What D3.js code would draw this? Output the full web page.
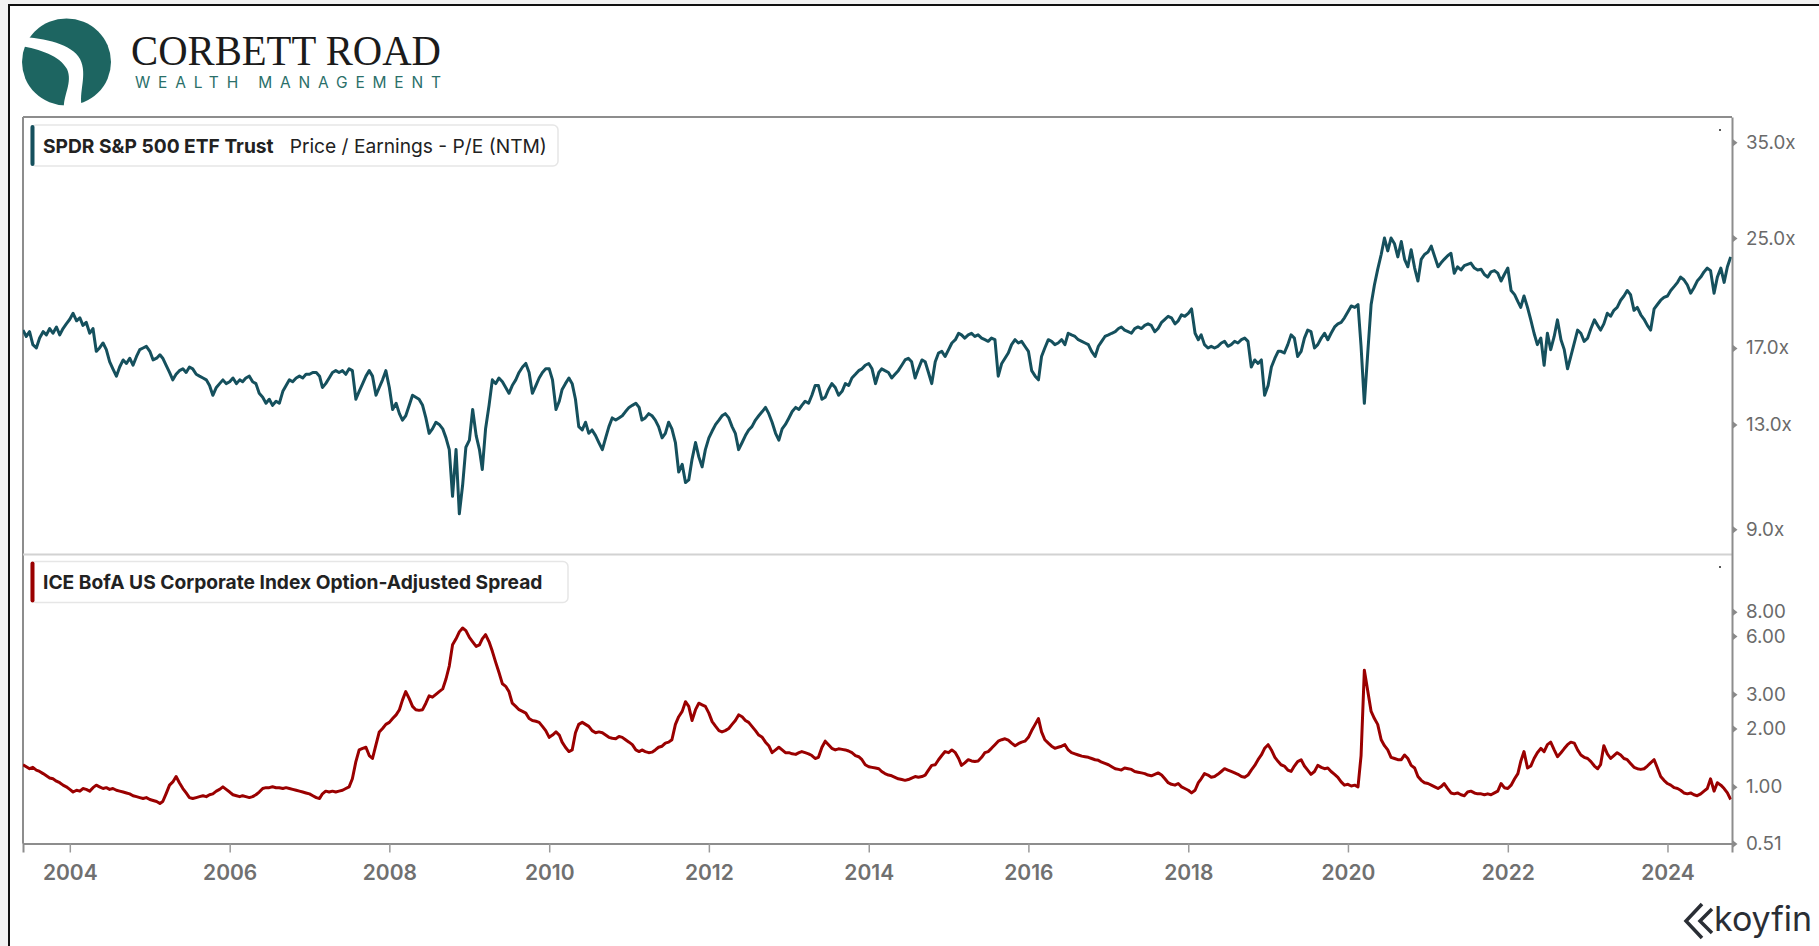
<!DOCTYPE html>
<html><head><meta charset="utf-8">
<script src="https://cdn.jsdelivr.net/npm/d3@7"></script>
<style>html,body{margin:0;padding:0;background:#f2f2f2;} svg{display:block;}</style>
</head><body>
<svg id="c" width="1819" height="946"></svg>
<script>
// Observations: 1st and 16th of each month, starting June 2003
const startYear = 2003, startMonth = 5;
const peName = "SPDR S&P 500 ETF Trust";
const peMetric = "Price / Earnings - P/E (NTM)";
const oasName = "ICE BofA US Corporate Index Option-Adjusted Spread";
const peValues = [
/*2003*/18.1,17.7,18.0,17.2,17.0,17.6,18.0,17.8,18.2,17.9,18.3,17.8,18.2,18.5,
/*2004*/18.8,19.2,18.7,18.9,18.4,18.6,17.9,18.2,16.8,17.0,17.3,16.9,16.2,15.8,15.4,15.9,16.3,16.1,16.4,16.0,16.5,16.9,17.0,17.1,
/*2005*/16.8,16.3,16.4,16.6,16.4,16.0,15.6,15.2,15.5,15.7,15.8,15.6,15.9,15.8,15.5,15.4,15.3,15.2,14.9,14.4,14.8,15.0,15.2,15.0,
/*2006*/15.1,15.3,15.0,15.2,15.1,15.3,15.4,15.1,15.0,14.5,14.3,14.0,14.2,13.9,14.1,14.0,14.6,14.9,15.2,15.1,15.3,15.4,15.3,15.5,
/*2007*/15.5,15.6,15.6,15.4,14.8,15.0,15.3,15.6,15.7,15.6,15.7,15.5,15.8,15.7,14.2,14.6,15.0,15.4,15.7,15.4,14.4,14.8,15.2,15.7,
/*2008*/14.8,13.7,14.0,13.5,13.2,13.4,13.9,14.4,14.3,14.2,13.9,13.3,12.6,12.8,13.1,13.0,12.8,12.4,11.9,10.1,11.9,9.5,10.5,12.0,
/*2009*/12.3,13.7,12.5,11.9,11.1,12.8,13.9,15.2,15.0,15.3,15.1,14.8,14.5,14.9,15.2,15.6,15.9,16.1,15.6,14.5,14.9,15.3,15.6,15.8,
/*2010*/15.8,15.2,13.7,14.1,14.7,15.0,15.3,15.0,14.2,12.9,12.75,13.1,12.6,12.75,12.5,12.2,11.9,12.4,12.9,13.3,13.2,13.3,13.4,13.6,
/*2011*/13.8,13.9,14.0,13.8,13.2,13.3,13.5,13.4,13.2,12.9,12.4,12.6,13.1,12.8,12.2,11.0,11.3,10.6,10.7,11.5,12.2,11.6,11.2,11.9,
/*2012*/12.4,12.7,13.0,13.2,13.4,13.5,13.3,12.9,12.6,11.9,12.2,12.5,12.75,12.9,13.2,13.4,13.6,13.8,13.5,13.1,12.6,12.3,12.8,13.0,
/*2013*/13.3,13.6,13.8,13.7,13.9,14.1,14.0,14.4,14.9,14.9,14.2,14.3,14.7,15.0,14.8,14.4,14.6,15.0,14.9,15.3,15.5,15.7,15.8,16.0,
/*2014*/16.1,15.8,15.0,15.6,15.8,15.7,15.6,15.3,15.5,15.7,16.0,16.3,16.4,16.2,15.3,15.8,16.3,16.2,15.6,15.0,16.2,16.7,16.8,16.5,
/*2015*/16.9,17.3,17.5,17.9,17.8,17.6,17.8,17.9,17.7,17.8,17.6,17.5,17.4,17.6,17.5,15.4,16.1,16.4,16.7,17.2,17.5,17.3,17.4,17.1,
/*2016*/16.8,15.7,15.4,15.2,16.5,17.0,17.5,17.4,17.2,17.3,17.5,17.2,17.9,17.8,17.7,17.5,17.4,17.3,17.2,16.8,16.5,17.1,17.4,17.7,
/*2017*/17.8,17.9,18.0,18.2,18.3,18.1,18.0,17.9,18.2,18.3,18.2,18.4,18.5,18.4,18.0,18.2,18.6,18.8,19.0,18.9,18.5,18.7,19.1,19.0,
/*2018*/19.2,19.5,17.9,17.5,17.8,17.2,17.0,17.1,17.0,17.1,17.3,17.4,17.1,17.2,17.4,17.3,17.5,17.6,17.4,15.9,16.3,16.1,16.3,14.4,
/*2019*/14.9,15.9,16.4,16.8,16.8,16.7,17.2,17.8,17.6,16.5,16.8,17.6,18.1,18.0,17.0,17.2,17.6,17.9,17.5,17.9,18.3,18.5,18.6,18.9,
/*2020*/19.3,19.7,19.6,19.8,17.1,14.0,16.8,19.8,21.2,22.4,23.6,25.0,23.9,25.0,24.5,23.4,24.7,23.2,22.6,24.0,22.5,21.5,23.2,23.6,
/*2021*/23.8,24.3,23.4,22.6,22.9,23.2,23.5,23.7,22.1,22.6,22.35,22.7,22.8,22.9,22.5,22.35,22.4,22.0,21.8,22.2,22.3,22.1,21.5,22.0,
/*2022*/22.5,20.8,20.5,20.0,19.6,20.4,19.6,18.76,17.9,17.2,17.6,16.0,17.9,16.9,17.7,18.76,17.5,16.9,15.8,16.5,17.3,18.1,17.9,17.4,
/*2023*/17.6,18.2,18.76,18.4,18.1,18.5,19.2,19.0,19.4,19.6,20.1,20.4,20.8,20.5,19.4,19.6,19.1,18.8,18.4,18.1,19.5,19.8,20.1,20.3,
/*2024*/20.4,20.8,21.1,21.4,21.8,21.6,21.2,20.6,21.0,21.5,21.8,22.2,22.5,22.3,20.6,21.8,22.5,21.4,22.6,23.4
];
const oasValues = [
/*2003*/1.30,1.27,1.24,1.26,1.22,1.20,1.17,1.14,1.11,1.10,1.07,1.05,1.02,1.00,
/*2004*/0.97,0.94,0.96,0.95,0.98,0.97,0.95,0.99,1.02,1.00,0.98,0.99,0.97,0.98,0.96,0.95,0.94,0.93,0.92,0.90,0.89,0.88,0.87,0.88,
/*2005*/0.86,0.85,0.84,0.82,0.84,0.92,1.02,1.06,1.13,1.05,0.98,0.93,0.88,0.87,0.88,0.89,0.90,0.89,0.91,0.92,0.95,0.97,1.00,0.97,
/*2006*/0.94,0.91,0.90,0.89,0.90,0.89,0.88,0.89,0.91,0.94,0.98,0.99,0.99,1.00,0.99,0.99,0.98,0.99,0.98,0.97,0.96,0.95,0.94,0.93,
/*2007*/0.92,0.90,0.88,0.87,0.92,0.95,0.94,0.95,0.94,0.95,0.96,0.98,1.00,1.10,1.35,1.55,1.58,1.60,1.45,1.40,1.65,1.92,2.00,2.10,
/*2008*/2.15,2.25,2.35,2.50,2.80,3.10,2.85,2.60,2.50,2.48,2.50,2.70,2.95,2.90,3.00,3.10,3.20,3.60,4.20,5.40,5.80,6.30,6.60,6.40,
/*2009*/5.90,5.60,5.30,5.40,5.80,6.10,5.60,5.00,4.40,3.90,3.40,3.30,3.10,2.70,2.60,2.50,2.45,2.40,2.25,2.20,2.18,2.15,2.05,1.95,
/*2010*/1.80,1.85,1.92,1.85,1.70,1.60,1.52,1.55,1.90,2.10,2.15,2.10,2.05,1.95,1.90,1.92,1.90,1.85,1.80,1.78,1.77,1.82,1.80,1.75,
/*2011*/1.70,1.65,1.55,1.52,1.55,1.52,1.50,1.51,1.55,1.60,1.62,1.68,1.70,1.75,2.10,2.30,2.45,2.75,2.60,2.20,2.50,2.70,2.65,2.60,
/*2012*/2.40,2.17,2.05,1.95,1.92,1.95,2.00,2.10,2.20,2.35,2.30,2.20,2.15,2.05,1.95,1.85,1.80,1.70,1.63,1.50,1.55,1.60,1.55,1.50,
/*2013*/1.50,1.48,1.47,1.50,1.52,1.50,1.48,1.45,1.40,1.42,1.60,1.72,1.65,1.58,1.55,1.57,1.56,1.55,1.53,1.50,1.45,1.43,1.38,1.30,
/*2014*/1.27,1.26,1.25,1.24,1.20,1.17,1.15,1.14,1.12,1.10,1.09,1.08,1.09,1.11,1.13,1.12,1.13,1.15,1.22,1.29,1.30,1.38,1.45,1.52,
/*2015*/1.50,1.55,1.50,1.40,1.29,1.33,1.38,1.36,1.35,1.36,1.42,1.50,1.52,1.58,1.65,1.72,1.75,1.77,1.74,1.68,1.63,1.67,1.70,1.72,
/*2016*/1.80,1.95,2.10,2.25,1.92,1.75,1.68,1.62,1.58,1.60,1.62,1.65,1.55,1.50,1.48,1.46,1.44,1.43,1.42,1.40,1.38,1.37,1.34,1.32,
/*2017*/1.30,1.27,1.24,1.23,1.22,1.25,1.24,1.23,1.20,1.19,1.18,1.17,1.15,1.14,1.16,1.18,1.15,1.10,1.05,1.03,1.02,1.04,1.00,0.98,
/*2018*/0.96,0.93,0.96,1.05,1.10,1.17,1.15,1.12,1.13,1.16,1.20,1.24,1.22,1.20,1.18,1.16,1.13,1.12,1.15,1.22,1.29,1.38,1.46,1.58,
/*2019*/1.65,1.55,1.42,1.35,1.30,1.28,1.22,1.20,1.28,1.35,1.38,1.28,1.22,1.16,1.20,1.29,1.26,1.24,1.25,1.20,1.16,1.12,1.06,1.02,
/*2020*/1.03,1.01,1.02,1.00,1.45,4.00,3.10,2.45,2.25,2.10,1.75,1.63,1.55,1.42,1.40,1.38,1.38,1.46,1.40,1.29,1.25,1.13,1.08,1.05,
/*2021*/1.04,1.02,1.00,0.98,1.00,1.04,0.98,0.93,0.92,0.93,0.91,0.90,0.94,0.95,0.93,0.92,0.92,0.91,0.92,0.91,0.93,0.95,1.04,0.99,
/*2022*/0.98,1.02,1.10,1.17,1.35,1.52,1.25,1.28,1.40,1.50,1.58,1.52,1.65,1.70,1.55,1.43,1.50,1.575,1.65,1.70,1.68,1.55,1.46,1.42,
/*2023*/1.40,1.35,1.28,1.24,1.30,1.63,1.48,1.40,1.45,1.50,1.46,1.40,1.38,1.32,1.26,1.24,1.23,1.24,1.28,1.33,1.38,1.25,1.13,1.08,
/*2024*/1.04,1.02,0.99,0.98,0.96,0.93,0.92,0.93,0.91,0.90,0.92,0.95,0.98,1.10,0.95,1.05,1.02,0.98,0.93,0.86
];
const yearTicks = [2004,2006,2008,2010,2012,2014,2016,2018,2020,2022,2024];
const peTicks = [9,13,17,25,35];
const oasTicks = [0.51,1,2,3,6,8];

const dates = peValues.map((_, i) => new Date(startYear, startMonth + Math.floor(i / 2), i % 2 ? 16 : 1));

const svg = d3.select("#c");
const L = 23, R = 1732, T = 117, MID = 554.5, B = 843.5;
const FONT = "Inter, 'Noto Sans', sans-serif";
const TEAL = "#15505d", RED = "#9a0000", AXIS = "#8d8d8d";

svg.append("rect").attr("x", 9).attr("y", 5).attr("width", 1830).attr("height", 960)
  .attr("fill", "#fff").attr("stroke", "#111").attr("stroke-width", 2);

// ---- logo ----
const logo = svg.append("g");
logo.append("ellipse").attr("cx", 66.5).attr("cy", 62).attr("rx", 44.5).attr("ry", 43.5).attr("fill", "#1d6561");
logo.append("path").attr("fill", "#fff")
  .attr("d", "M20 37 C 45 38, 72 44, 80 59 C 88 75, 78 92, 82 108 L 64 108 C 63 96, 73 82, 67 69 C 60 56, 40 49, 20 46 Z");
logo.append("text").attr("x", 131).attr("y", 64.5).attr("font-family", "'Liberation Serif', 'DejaVu Serif', serif")
  .attr("font-size", 42).attr("fill", "#1b1b1b").attr("textLength", 310).attr("lengthAdjust", "spacingAndGlyphs").text("CORBETT ROAD");
logo.append("text").attr("x", 135).attr("y", 87.5).attr("font-family", FONT).attr("font-size", 15.5)
  .attr("fill", "#2a6f69").attr("textLength", 306).attr("lengthAdjust", "spacing").text("WEALTH MANAGEMENT");

// ---- scales ----
const x = d3.scaleTime().domain([new Date(2003, 5, 1), new Date(2024, 9, 22)]).range([L, R]);
const yPE = d3.scaleLog().domain([8.236, 38.23]).range([MID, T]);
const yOAS = d3.scaleLog().domain([0.51, 15.8]).range([B, MID]);

// ---- frame ----
svg.append("line").attr("x1", L).attr("x2", R).attr("y1", T).attr("y2", T).attr("stroke", AXIS).attr("stroke-width", 2);
svg.append("line").attr("x1", L).attr("x2", L).attr("y1", T).attr("y2", B).attr("stroke", AXIS).attr("stroke-width", 2);
svg.append("line").attr("x1", L).attr("x2", R).attr("y1", MID).attr("y2", MID).attr("stroke", "#d2d2d2").attr("stroke-width", 2);

const defs = svg.append("defs");
defs.append("clipPath").attr("id", "cTop").append("rect").attr("x", L).attr("y", T).attr("width", R - L).attr("height", MID - T);
defs.append("clipPath").attr("id", "cBot").append("rect").attr("x", L).attr("y", MID).attr("width", R - L).attr("height", B - MID);

// ---- lines ----
svg.append("path").datum(peValues).attr("clip-path", "url(#cTop)")
  .attr("fill", "none").attr("stroke", TEAL).attr("stroke-width", 3).attr("stroke-linejoin", "round")
  .attr("d", d3.line().x((d, i) => x(dates[i])).y(d => yPE(d)));
svg.append("path").datum(oasValues).attr("clip-path", "url(#cBot)")
  .attr("fill", "none").attr("stroke", RED).attr("stroke-width", 3).attr("stroke-linejoin", "round")
  .attr("d", d3.line().x((d, i) => x(dates[i])).y(d => yOAS(d)));

// ---- right axes ----
function rightAxis(scale, ticks, fmt) {
  const g = svg.append("g").attr("transform", `translate(${R},0)`)
    .call(d3.axisRight(scale).tickValues(ticks).tickFormat(fmt).tickSize(0).tickPadding(14));
  g.select(".domain").attr("stroke", AXIS).attr("stroke-width", 2);
  g.selectAll(".tick text").attr("font-family", FONT).attr("font-size", 18.8).attr("fill", "#6a6a6a");
  g.selectAll(".tick").append("path").attr("d", "M1 -3.5 L5.5 0 L1 3.5 Z").attr("fill", "#8a8a8a");
  return g;
}
rightAxis(yPE, peTicks, d => d3.format(".1f")(d) + "x");
rightAxis(yOAS, oasTicks, d3.format(".2f"));

// ---- bottom axis ----
const gx = svg.append("g").attr("transform", `translate(0,${B})`)
  .call(d3.axisBottom(x).tickValues(yearTicks.map(y => new Date(y, 0, 1))).tickFormat(d3.timeFormat("%Y")).tickSize(9).tickPadding(13));
gx.select(".domain").attr("stroke", AXIS).attr("stroke-width", 2);
gx.selectAll(".tick line").attr("stroke", "#9a9a9a").attr("stroke-width", 1.5);
gx.selectAll(".tick text").attr("font-family", FONT).attr("font-weight", 600).attr("font-size", 21).attr("fill", "#707070");

// ---- legends ----
function legend(y, h, w, color, parts) {
  const g = svg.append("g");
  g.append("rect").attr("x", 31).attr("y", y).attr("width", w).attr("height", h).attr("rx", 5)
    .attr("fill", "#fff").attr("stroke", "#e6e6e6").attr("stroke-width", 1.5);
  g.append("rect").attr("x", 30.5).attr("y", y).attr("width", 4).attr("height", h).attr("rx", 2).attr("fill", color);
  const t = g.append("text").attr("x", 43).attr("y", y + h / 2 + 7).attr("font-family", FONT).attr("font-size", 19.2).attr("fill", "#222");
  parts.forEach(p => t.append("tspan").attr("font-weight", p.b ? 700 : 400).attr("dx", p.dx || 0).text(p.t));
  return t;
}
legend(125, 41, 527, TEAL, [{t: peName, b: true}, {t: peMetric, dx: 16}]);
legend(561.5, 41, 537, RED, [{t: oasName, b: true}]);

svg.append("circle").attr("cx", 1720).attr("cy", 130).attr("r", 1).attr("fill", "#222");
svg.append("circle").attr("cx", 1720).attr("cy", 567).attr("r", 1).attr("fill", "#222");

// ---- koyfin ----
const k = svg.append("g");
k.append("path").attr("d", "M1702 904 L1686 921 L1702 938").attr("fill", "none").attr("stroke", "#2a2e35").attr("stroke-width", 3.5);
k.append("path").attr("d", "M1712 909 L1700 921 L1712 933").attr("fill", "none").attr("stroke", "#2a2e35").attr("stroke-width", 3.5);
k.append("text").attr("x", 1714).attr("y", 931).attr("font-family", FONT).attr("font-size", 34).attr("fill", "#2a2e35").text("koyfin");
</script>
</body></html>
